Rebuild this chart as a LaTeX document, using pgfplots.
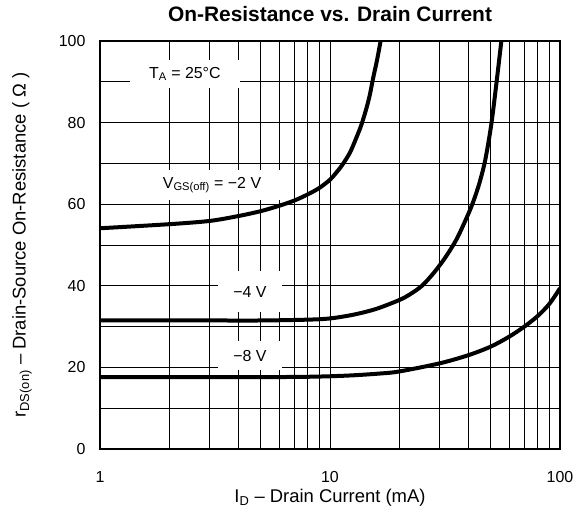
\documentclass[border=0pt]{standalone}
\usepackage{fontspec}
\setmainfont{Liberation Sans}
\usepackage{pgfplots}
\pgfplotsset{compat=1.18}

\begin{document}
\begin{tikzpicture}
\begin{axis}[
    name=ax,
    scale only axis,
    width=460bp, height=408bp,
    xmode=log,
    xmin=1, xmax=100,
    ymin=0, ymax=100,
    xtick={1,10,100},
    xticklabels={1,10,100},
    ytick={0,20,40,60,80,100},
    minor ytick={10,30,50,70,90},
    grid=both,
    major grid style={black, line width=0.8bp},
    minor grid style={black, line width=0.8bp},
    axis line style={black, line width=1.2bp},
    major tick length=0pt, minor tick length=0pt,
    font=\fontsize{16}{19}\selectfont,
    /pgf/number format/assume math mode=true,
    xticklabel style={anchor=center, yshift=-28bp},
    yticklabel style={anchor=east, xshift=-11bp},
    title={\fontsize{21}{24}\selectfont\bfseries On-Resistance vs. Drain Current},
    title style={at={(axis description cs:0.5,1.0515)}, anchor=center},
    xlabel={\fontsize{18.5}{22}\selectfont I\textsubscript{D} – Drain Current (mA)},
    xlabel style={at={(axis description cs:0.5,-0.12)}, anchor=center},
    ylabel={\fontsize{18.5}{22}\selectfont r\textsubscript{DS(on)} – Drain-Source On-Resistance ( Ω )},
    ylabel style={at={(axis description cs:-0.1696,0.5)}, anchor=center},
    curve/.style={black, line width=4bp, smooth, tension=0.5, no marks},
]
% VGS(off) = -2 V
\addplot[curve] coordinates {
(1,54.1) (2,55.1) (3,55.9) (4,57.1) (5,58.3) (6,59.6) (7,60.9) (8,62.4)
(9,64.0) (10,66.0) (10.6,67.6) (11.3,69.6) (12.2,72.6) (13.0,76.2)
(13.7,79.5) (14.4,83.5) (14.9,86.8) (15.4,90.9) (16.0,95.2) (16.6,100)
};
% -4 V
\addplot[curve] coordinates {
(1,31.5) (3,31.5) (5,31.5) (8,31.7) (10,32.0) (12.6,32.9) (15.8,34.3)
(20,36.5) (22.4,38.0) (25.1,40.0) (28.2,43.1) (31.6,46.8) (35.5,51.4)
(39.8,57.4) (42.2,61.0) (44.7,65.3) (47.3,70.8) (50.1,79.0) (52.5,88.0)
(55.6,100)
};
% -8 V
\addplot[curve] coordinates {
(1,17.6) (4,17.6) (8,17.7) (12,18.0) (16.5,18.5) (20,19.0) (30,21.0)
(40,23.0) (50,25.1) (60,27.5) (70,30.0) (80,32.6) (90,35.6) (100,39.4)
};

\node[fill=white, inner sep=0pt, minimum width=110bp, minimum height=28bp]
  at (axis cs:2.34,91.9) {T\textsubscript{A} = 25°C};
\node[fill=white, inner sep=0pt, minimum width=139bp, minimum height=30bp]
  at (axis cs:3.07,64.7) {V\textsubscript{GS(off)} = −2 V};
\node[fill=white, inner sep=0pt, minimum width=64bp, minimum height=41bp]
  at (axis cs:4.49,38.5) {−4 V};
\node[fill=white, inner sep=0pt, minimum width=64bp, minimum height=29bp]
  at (axis cs:4.49,22.8) {−8 V};
\end{axis}
\pgfresetboundingbox
\path[use as bounding box] ([shift={(-100bp,-60bp)}]ax.south west) rectangle ([shift={(18bp,41bp)}]ax.north east);
\end{tikzpicture}
\end{document}
